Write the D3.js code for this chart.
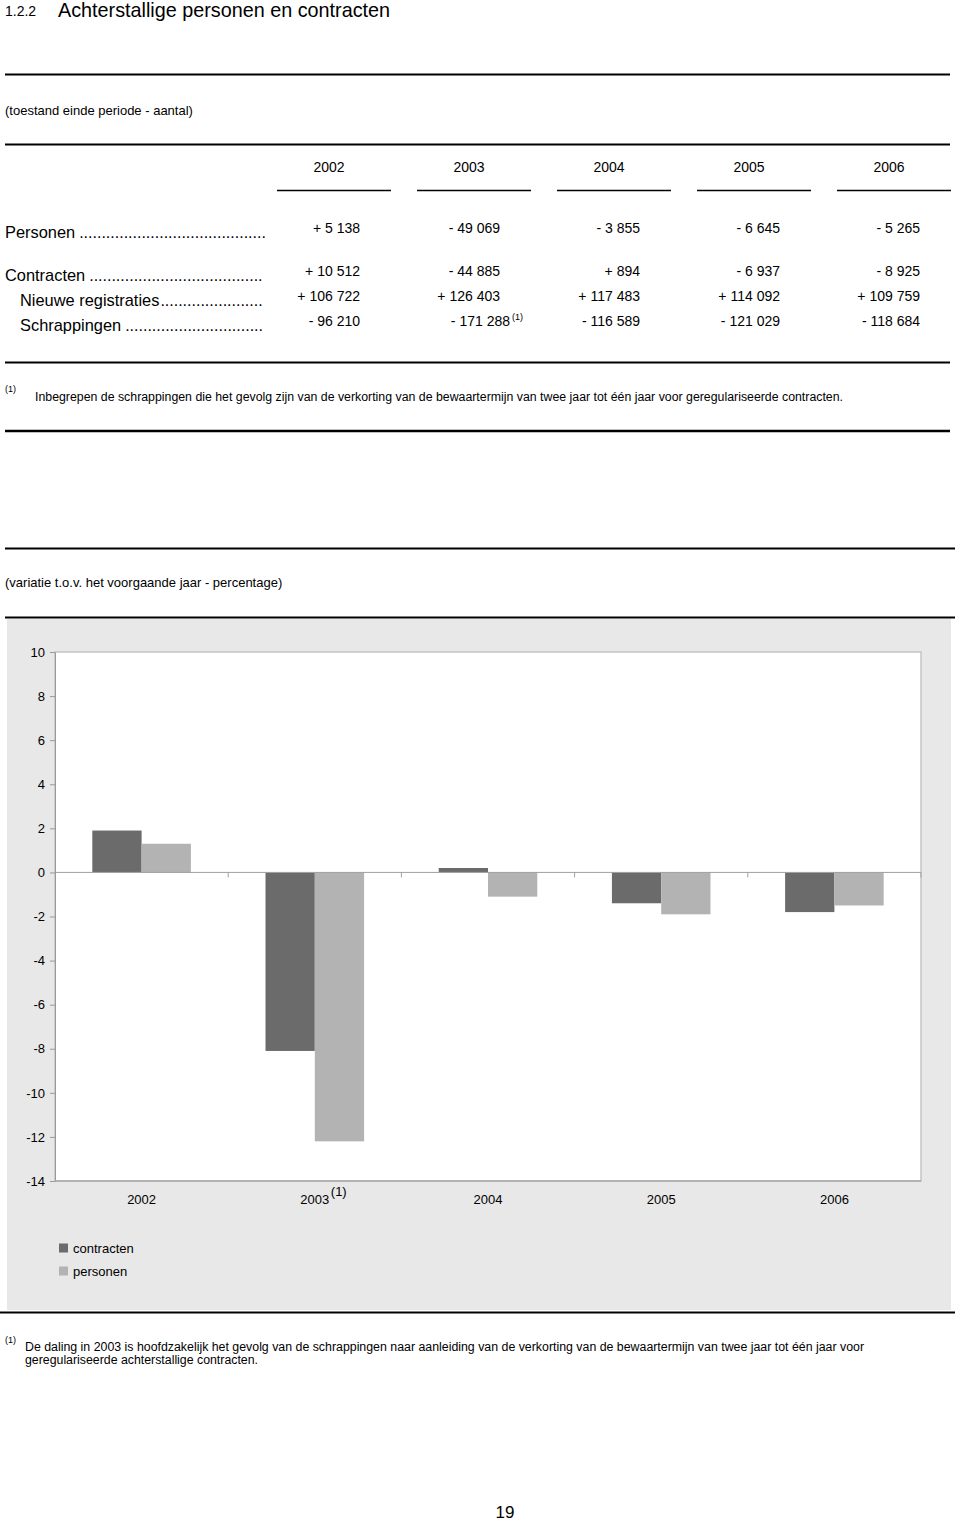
<!DOCTYPE html>
<html><head><meta charset="utf-8">
<script src="https://cdn.jsdelivr.net/npm/d3@7"></script>
<style>
body{margin:0;background:#fff;}
svg{display:block;font-family:"Liberation Sans",Arial,sans-serif;}
</style></head>
<body><svg id="c" width="960" height="1521"></svg>
<script>
// ---- data ----
const years = ["2002","2003","2004","2005","2006"];
const rowLabels = ["Personen","Contracten","Nieuwe registraties","Schrappingen"];
const tablePersonen = ["+ 5 138","- 49 069","- 3 855","- 6 645","- 5 265"];
const tableContracten = ["+ 10 512","- 44 885","+ 894","- 6 937","- 8 925"];
const tableNieuwe = ["+ 106 722","+ 126 403","+ 117 483","+ 114 092","+ 109 759"];
const tableSchrappingen = ["- 96 210","- 171 288","- 116 589","- 121 029","- 118 684"];
const schrappingenNote = [false,true,false,false,false];
const contractenPct = [1.9, -8.1, 0.2, -1.4, -1.8];
const personenPct = [1.3, -12.2, -1.1, -1.9, -1.5];
const seriesNames = ["contracten","personen"];
const yTicks = [10,8,6,4,2,0,-2,-4,-6,-8,-10,-12,-14];
const xNotes = [false,true,false,false,false];

const colors = {contracten:"#6b6b6b", personen:"#b3b3b3"};
const svg = d3.select("#c");

function hline(y, x1, x2, w, col){
  svg.append("line").attr("x1",x1).attr("x2",x2).attr("y1",y).attr("y2",y)
    .attr("stroke",col||"#000").attr("stroke-width",w||2);
}
// ---- header ----
svg.append("text").attr("x",5).attr("y",16).attr("font-size",14).text("1.2.2");
svg.append("text").attr("x",58).attr("y",17).attr("font-size",19.8).text("Achterstallige personen en contracten");
hline(74.5,5,950,2);
svg.append("text").attr("x",5).attr("y",115).attr("font-size",13).text("(toestand einde periode - aantal)");
hline(144.5,5,950,2);

// ---- table ----
const tx = d3.scaleBand().domain(years).range([264,964]);
const tc = d => tx(d)+tx.bandwidth()/2;
svg.selectAll(".yh").data(years).join("text")
  .attr("x",d=>tc(d)-5).attr("y",172).attr("text-anchor","middle").attr("font-size",14).text(d=>d);
svg.selectAll(".yu").data(years).join("line")
  .attr("x1",d=>tc(d)-57).attr("x2",d=>tc(d)+57).attr("y1",190.5).attr("y2",190.5)
  .attr("stroke","#000").attr("stroke-width",1.5);

const rows = [
  {label:rowLabels[0], vals:tablePersonen, y:238, indent:5},
  {label:rowLabels[1], vals:tableContracten, y:281, indent:5},
  {label:rowLabels[2], vals:tableNieuwe, y:306, indent:20},
  {label:rowLabels[3], vals:tableSchrappingen, y:331, indent:20, notes:schrappingenNote}
];
rows.forEach(r=>{
  const lab = svg.append("text").attr("x",r.indent).attr("y",r.y).attr("font-size",16.4).text(r.label);
  const end = r.indent + lab.node().getComputedTextLength();
  const dotStart = end + (r.label==="Nieuwe registraties"?1:4);
  const dotW = 16*0.278;
  const n = Math.max(0, Math.floor((266-dotStart)/dotW));
  svg.append("text").attr("x",dotStart).attr("y",r.y).attr("font-size",16).text(".".repeat(n));
  years.forEach((yr,i)=>{
    const note = r.notes && r.notes[i];
    const x = tc(yr)+26 + (note?10:0);
    svg.append("text").attr("x",x).attr("y",r.y-5).attr("font-size",14)
      .attr("text-anchor","end").text(r.vals[i]);
    if(note){
      svg.append("text").attr("x",x+2).attr("y",r.y-11).attr("font-size",9).text("(1)");
    }
  });
});
hline(362.5,5,950,2);
svg.append("text").attr("x",5).attr("y",392).attr("font-size",9).text("(1)");
svg.append("text").attr("x",35).attr("y",401).attr("font-size",12)
  .attr("textLength",808).attr("lengthAdjust","spacingAndGlyphs")
  .text("Inbegrepen de schrappingen die het gevolg zijn van de verkorting van de bewaartermijn van twee jaar tot één jaar voor geregulariseerde contracten.");
hline(431,5,950,2.5);

hline(548.5,5,955,2);
svg.append("text").attr("x",5).attr("y",587).attr("font-size",13).text("(variatie t.o.v. het voorgaande jaar - percentage)");
hline(617.5,5,955,2);

// ---- chart panel ----
svg.append("rect").attr("x",7).attr("y",619).attr("width",944).attr("height",691).attr("fill","#e8e8e8");
const L=55, R=921, T=652, B=1181;
svg.append("rect").attr("x",L).attr("y",T).attr("width",R-L).attr("height",B-T)
  .attr("fill","#fff").attr("stroke","#c4c4c4").attr("stroke-width",1.5);

const y = d3.scaleLinear().domain([-14,10]).range([B,T]);
const x0 = d3.scaleBand().domain(years).range([L,R]).padding(0);
const x1 = d3.scaleBand().domain(seriesNames).range([0,x0.bandwidth()]).paddingInner(0).paddingOuter(0.757);

const data = years.map((yr,i)=>({year:yr, contracten:contractenPct[i], personen:personenPct[i]}));
const g = svg.append("g");
g.selectAll("g.grp").data(data).join("g").attr("transform",d=>`translate(${x0(d.year)},0)`)
  .selectAll("rect").data(d=>seriesNames.map(s=>({s, v:d[s]})))
  .join("rect")
  .attr("x",d=>x1(d.s)).attr("width",x1.bandwidth())
  .attr("y",d=>y(Math.max(0,d.v))).attr("height",d=>Math.abs(y(d.v)-y(0)))
  .attr("fill",d=>colors[d.s]);

// zero line + category ticks
svg.append("line").attr("x1",L).attr("x2",R).attr("y1",y(0)).attr("y2",y(0)).attr("stroke","#a0a0a0").attr("stroke-width",1);
const bounds = years.slice(1).map(d=>x0(d)).concat([R]);
svg.selectAll(".ct").data(bounds).join("line")
  .attr("x1",d=>d).attr("x2",d=>d).attr("y1",y(0)).attr("y2",y(0)+5).attr("stroke","#a0a0a0");

// y axis
const yAxis = d3.axisLeft(y).tickValues(yTicks).tickSize(5).tickSizeOuter(0).tickFormat(d => String(d));
const ya = svg.append("g").attr("transform",`translate(${L},0)`).call(yAxis);
ya.select(".domain").attr("stroke","#999");
ya.selectAll(".tick line").attr("stroke","#999");
ya.selectAll(".tick text").attr("font-size",13).attr("font-family","Liberation Sans, Arial, sans-serif").attr("fill","#000").attr("x",-10);
// bottom axis line
svg.append("line").attr("x1",L).attr("x2",R).attr("y1",B).attr("y2",B).attr("stroke","#a8a8a8").attr("stroke-width",1.5);

// x labels
years.forEach((yr,i)=>{
  const cx = x0(yr)+x0.bandwidth()/2;
  svg.append("text").attr("x",cx).attr("y",1204).attr("text-anchor","middle").attr("font-size",13).text(yr);
  if(xNotes[i]) svg.append("text").attr("x",cx+16).attr("y",1196).attr("font-size",13).text("(1)");
});

// legend
seriesNames.forEach((s,i)=>{
  const cy = 1248 + i*23;
  svg.append("rect").attr("x",59).attr("y",cy-4.5).attr("width",9).attr("height",9).attr("fill",colors[s]);
  svg.append("text").attr("x",73).attr("y",cy+4.5).attr("font-size",13).text(s);
});

hline(1312.5,0,955,2);
svg.append("text").attr("x",5).attr("y",1343).attr("font-size",9).text("(1)");
svg.append("text").attr("x",25).attr("y",1351).attr("font-size",12)
  .attr("textLength",839).attr("lengthAdjust","spacingAndGlyphs")
  .text("De daling in 2003 is hoofdzakelijk het gevolg van de schrappingen naar aanleiding van de verkorting van de bewaartermijn van twee jaar tot één jaar voor");
svg.append("text").attr("x",25).attr("y",1364).attr("font-size",12)
  .attr("textLength",233).attr("lengthAdjust","spacingAndGlyphs")
  .text("geregulariseerde achterstallige contracten.");

svg.append("text").attr("x",505).attr("y",1518).attr("text-anchor","middle").attr("font-size",17).text("19");
</script></body></html>
